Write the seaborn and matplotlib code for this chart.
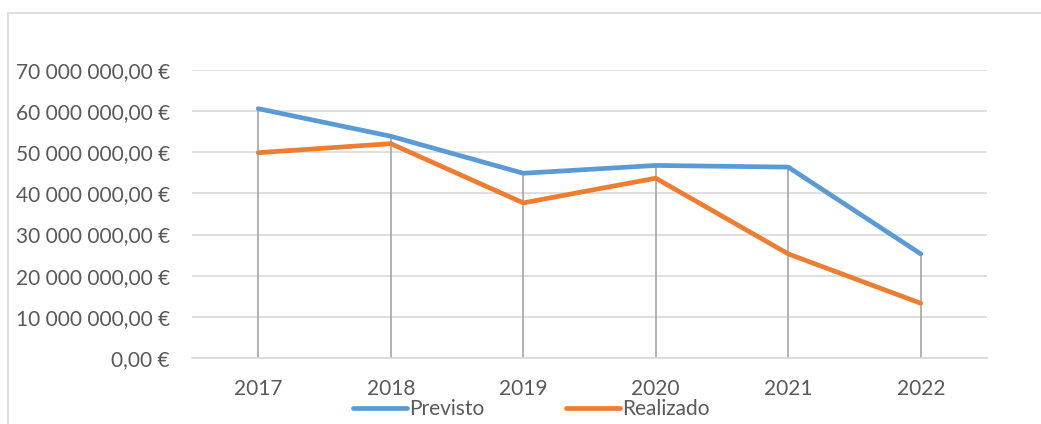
import pandas as pd
import numpy as np
import matplotlib.pyplot as plt
import seaborn as sns
from matplotlib.ticker import FuncFormatter

# Data
years = [2017, 2018, 2019, 2020, 2021, 2022]
previsto = [60.6e6, 53.9e6, 44.9e6, 46.8e6, 46.4e6, 25.3e6]
realizado = [49.9e6, 52.1e6, 37.7e6, 43.7e6, 25.3e6, 13.3e6]
series_names = ['Previsto', 'Realizado']
colors = ['#5B9BD5', '#ED7D31']

df = pd.DataFrame({
    'ano': years * 2,
    'valor': previsto + realizado,
    'serie': ['Previsto'] * len(years) + ['Realizado'] * len(years),
})

sns.set_style('white')
plt.rcParams['font.family'] = ['Lato', 'DejaVu Sans']

fig = plt.figure(figsize=(10.41, 4.24), dpi=100)
ax = fig.add_axes([192 / 1041, 1 - 358 / 424, (987 - 192) / 1041, (358 - 70) / 424])

# chart border (Excel style)
fig.add_artist(plt.Rectangle((8 / 1041, -0.1), 1.1, 1 - 13 / 424 + 0.1,
                             transform=fig.transFigure, fill=False,
                             edgecolor='#D9D9D9', linewidth=1.2))

# drop lines
tops = np.maximum(previsto, realizado)
ax.vlines(years, 0, tops, color='#A5A5A5', linewidth=1.2, zorder=1)

sns.lineplot(data=df, x='ano', y='valor', hue='serie', palette=colors,
             linewidth=3.4, ax=ax, zorder=3, legend=False)

ax.set_xlim(2016.5, 2022.5)
ax.set_ylim(0, 70e6)
ax.set_yticks(np.arange(0, 70e6 + 1, 10e6))
ax.set_xticks(years)
ax.yaxis.grid(True, color='#D9D9D9', linewidth=1.2)
ax.set_axisbelow(True)
for s in ['top', 'right', 'left']:
    ax.spines[s].set_visible(False)
ax.spines['bottom'].set_color('#D9D9D9')
ax.spines['bottom'].set_linewidth(1.2)

def euro(v, pos):
    s = f'{v:,.2f}'.replace(',', ' ').replace('.', ',')
    return s + ' €'

ax.yaxis.set_major_formatter(FuncFormatter(euro))
ax.tick_params(axis='both', length=0, labelsize=15, labelcolor='#595959')
ax.tick_params(axis='y', pad=16)
ax.tick_params(axis='x', pad=15)
ax.set_xlabel('')
ax.set_ylabel('')

handles = [plt.Line2D([], [], color=c, linewidth=3.4, solid_capstyle='round') for c in colors]
leg = fig.legend(handles, series_names, loc='center', bbox_to_anchor=(531 / 1041, 1 - 409 / 424),
                 ncol=2, frameon=False, fontsize=15, handlelength=2.6, handletextpad=0.1,
                 columnspacing=3.9, borderpad=0, labelcolor='#595959')

fig.savefig('out.png', dpi=100)
